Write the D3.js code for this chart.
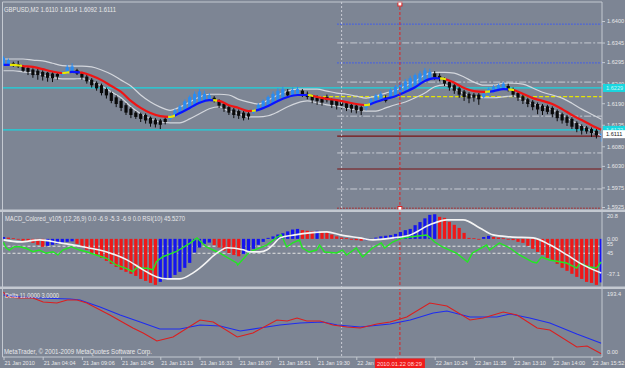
<!DOCTYPE html>
<html><head><meta charset="utf-8">
<script src="https://cdn.jsdelivr.net/npm/d3@7"></script>
<style>
body{margin:0;background:#7d8594;}
svg{display:block;font-family:"Liberation Sans",Arial,sans-serif;}
</style></head><body>
<svg id="c" width="625" height="368"></svg>
<script>
// ---------------- DATA ----------------
const symbolTitle = "GBPUSD,M2  1.6110 1.6114 1.6092 1.6111";
const macdTitle = "MACD_Colored_v105 (12,26,9) 0.0 -6.9 -5.3 -6.9 0.0  RSI(10) 45.5270";
const deltaTitle = "Delta 11.0000 3.0000";
const copyright = "MetaTrader, \u00A9 2001-2009 MetaQuotes Software Corp.";

const openP = [
1.6290,1.6290,1.6292,1.6290,1.6283,1.6280,1.6276,1.6273,1.6270,1.6268,
1.6266,1.6265,1.6262,1.6268,1.6272,1.6274,1.6266,1.6258,1.6250,1.6242,
1.6236,1.6226,1.6216,1.6205,1.6196,1.6185,1.6176,1.6166,1.6163,1.6160,
1.6153,1.6148,1.6146,1.6150,1.6150,1.6158,1.6163,1.6170,1.6176,1.6183,
1.6190,1.6196,1.6200,1.6204,1.6196,1.6188,1.6180,1.6174,1.6170,1.6166,
1.6164,1.6166,1.6172,1.6178,1.6184,1.6190,1.6198,1.6204,1.6220,1.6210,
1.6214,1.6222,1.6214,1.6208,1.6204,1.6202,1.6206,1.6198,1.6196,1.6192,
1.6190,1.6186,1.6184,1.6180,1.6178,1.6188,1.6194,1.6198,1.6204,1.6204,
1.6210,1.6215,1.6220,1.6226,1.6232,1.6240,1.6248,1.6254,1.6266,1.6260,
1.6252,1.6244,1.6236,1.6228,1.6220,1.6214,1.6212,1.6212,1.6206,1.6214,
1.6220,1.6224,1.6228,1.6234,1.6226,1.6216,1.6208,1.6200,1.6194,1.6188,
1.6184,1.6182,1.6178,1.6170,1.6162,1.6156,1.6150,1.6140,1.6132,1.6128,
1.6124,1.6120,1.6110];
const closeP = [
1.6306,1.6300,1.6286,1.6284,1.6273,1.6270,1.6262,1.6262,1.6258,1.6255,
1.6254,1.6258,1.6268,1.6282,1.6284,1.6266,1.6256,1.6246,1.6236,1.6228,
1.6216,1.6210,1.6196,1.6188,1.6178,1.6166,1.6160,1.6155,1.6150,1.6146,
1.6138,1.6136,1.6135,1.6142,1.6158,1.6172,1.6182,1.6195,1.6206,1.6214,
1.6220,1.6214,1.6210,1.6198,1.6184,1.6176,1.6166,1.6160,1.6158,1.6152,
1.6156,1.6172,1.6186,1.6196,1.6206,1.6214,1.6222,1.6226,1.6210,1.6224,
1.6226,1.6212,1.6206,1.6198,1.6196,1.6192,1.6198,1.6186,1.6184,1.6184,
1.6178,1.6176,1.6172,1.6170,1.6186,1.6200,1.6210,1.6214,1.6196,1.6224,
1.6232,1.6240,1.6246,1.6254,1.6262,1.6266,1.6274,1.6270,1.6256,1.6252,
1.6240,1.6230,1.6222,1.6212,1.6206,1.6202,1.6204,1.6200,1.6214,1.6226,
1.6232,1.6236,1.6240,1.6226,1.6212,1.6204,1.6196,1.6188,1.6180,1.6174,
1.6170,1.6168,1.6162,1.6152,1.6146,1.6140,1.6130,1.6124,1.6120,1.6118,
1.6114,1.6108,1.6111];
const highP = [
1.6310,1.6304,1.6296,1.6298,1.6287,1.6283,1.6279,1.6278,1.6274,1.6270,
1.6269,1.6268,1.6272,1.6288,1.6292,1.6278,1.6270,1.6262,1.6254,1.6246,
1.6240,1.6230,1.6220,1.6210,1.6200,1.6190,1.6180,1.6170,1.6166,1.6164,
1.6156,1.6152,1.6150,1.6154,1.6162,1.6176,1.6186,1.6200,1.6210,1.6220,
1.6226,1.6222,1.6216,1.6208,1.6200,1.6192,1.6184,1.6178,1.6174,1.6170,
1.6168,1.6176,1.6190,1.6200,1.6210,1.6220,1.6228,1.6232,1.6226,1.6230,
1.6232,1.6226,1.6220,1.6212,1.6210,1.6206,1.6212,1.6202,1.6200,1.6198,
1.6194,1.6190,1.6188,1.6184,1.6190,1.6204,1.6214,1.6220,1.6210,1.6228,
1.6236,1.6244,1.6252,1.6260,1.6266,1.6272,1.6280,1.6278,1.6272,1.6266,
1.6256,1.6248,1.6240,1.6232,1.6224,1.6218,1.6216,1.6216,1.6218,1.6230,
1.6236,1.6240,1.6244,1.6240,1.6230,1.6220,1.6212,1.6204,1.6198,1.6192,
1.6188,1.6186,1.6182,1.6174,1.6166,1.6160,1.6154,1.6144,1.6136,1.6132,
1.6128,1.6124,1.6114];
const lowP = [
1.6286,1.6287,1.6283,1.6280,1.6270,1.6262,1.6255,1.6250,1.6248,1.6245,
1.6244,1.6250,1.6258,1.6265,1.6269,1.6262,1.6250,1.6240,1.6230,1.6222,
1.6210,1.6202,1.6190,1.6180,1.6170,1.6160,1.6152,1.6150,1.6142,1.6138,
1.6130,1.6128,1.6124,1.6136,1.6146,1.6155,1.6160,1.6168,1.6174,1.6180,
1.6188,1.6192,1.6196,1.6192,1.6178,1.6168,1.6160,1.6152,1.6150,1.6146,
1.6148,1.6162,1.6170,1.6175,1.6180,1.6188,1.6195,1.6200,1.6204,1.6206,
1.6210,1.6206,1.6200,1.6190,1.6186,1.6184,1.6192,1.6178,1.6174,1.6176,
1.6170,1.6166,1.6164,1.6160,1.6172,1.6185,1.6190,1.6195,1.6192,1.6200,
1.6206,1.6212,1.6218,1.6222,1.6228,1.6236,1.6244,1.6250,1.6250,1.6246,
1.6234,1.6222,1.6214,1.6204,1.6196,1.6190,1.6194,1.6186,1.6202,1.6210,
1.6216,1.6220,1.6224,1.6220,1.6206,1.6196,1.6188,1.6180,1.6172,1.6162,
1.6160,1.6162,1.6154,1.6144,1.6138,1.6132,1.6124,1.6116,1.6110,1.6112,
1.6104,1.6100,1.6092];

// moving average (one value every 2 bars) and its envelope
const maCenter = [
1.6288,1.6288,1.6285,1.6283,1.6277,1.6271,1.6267,1.6270,1.6268,1.6260,
1.6249,1.6234,1.6219,1.6196,1.6178,1.6165,1.6157,1.6155,1.6165,1.6178,
1.6191,1.6198,1.6196,1.6185,1.6178,1.6170,1.6173,1.6183,1.6196,1.6206,
1.6211,1.6211,1.6206,1.6201,1.6198,1.6193,1.6188,1.6185,1.6193,1.6201,
1.6208,1.6219,1.6231,1.6247,1.6254,1.6252,1.6242,1.6229,1.6221,1.6219,
1.6221,1.6226,1.6224,1.6214,1.6203,1.6196,1.6188,1.6175,1.6160,1.6147,
1.6134,1.6122];
const maUpper = [
1.6303,1.6303,1.6303,1.6300,1.6298,1.6292,1.6286,1.6285,1.6285,1.6283,
1.6275,1.6264,1.6249,1.6234,1.6211,1.6193,1.6180,1.6172,1.6180,1.6193,
1.6206,1.6213,1.6213,1.6211,1.6200,1.6193,1.6188,1.6198,1.6211,1.6221,
1.6226,1.6226,1.6226,1.6221,1.6216,1.6213,1.6208,1.6203,1.6208,1.6216,
1.6223,1.6234,1.6246,1.6262,1.6269,1.6269,1.6267,1.6257,1.6244,1.6236,
1.6236,1.6241,1.6241,1.6239,1.6229,1.6218,1.6211,1.6203,1.6190,1.6175,
1.6162,1.6149];
const maLower = [
1.6273,1.6273,1.6270,1.6268,1.6262,1.6256,1.6252,1.6252,1.6253,1.6245,
1.6234,1.6219,1.6204,1.6181,1.6163,1.6150,1.6142,1.6140,1.6140,1.6150,
1.6163,1.6176,1.6181,1.6170,1.6163,1.6155,1.6155,1.6158,1.6168,1.6181,
1.6191,1.6196,1.6191,1.6186,1.6183,1.6178,1.6173,1.6170,1.6170,1.6178,
1.6186,1.6193,1.6204,1.6216,1.6232,1.6237,1.6227,1.6214,1.6206,1.6204,
1.6204,1.6206,1.6209,1.6199,1.6188,1.6181,1.6173,1.6160,1.6145,1.6132,
1.6119,1.6107];
// colour state of the MA line: start bar of each state
const maStateStart = [0,1.3,3.8,12,13.5,15.6,33.6,35,42.8,43.6,50.7,51.5,62.1,63.2,73.6,74.8,89.1,90.3,98.3,99.3,103,104.2,123];
const maState = ["up","flat","down","flat","up","down","flat","up","flat","down","flat","up","flat","down","flat","up","flat","down","flat","up","flat","down"];

// horizontal levels and objects on the price chart
const cyanLevels = [1.6229, 1.6122];
const blueDotLevels = [1.6392, 1.6293];
const greyLevels = [1.6344, 1.6244, 1.6157, 1.6063, 1.5971];
const darkRedLevels = [1.6106, 1.6022];
const redDotLevels = [1.5922];
const yellowLevels = [1.6207];
const objectsStartBar = 68.1;
const yellowStartBar = 64;
const greyVLineBar = 69;
const redVLineBar = 80.9;
const priceTicks = [1.6400,1.6345,1.6295,1.6240,1.6190,1.6135,1.6080,1.6030,1.5975,1.5925];
const lastPrice = 1.6111;

// MACD histogram (one per bar)
const macdHist = [
1.5,1.0,0.5,-0.5,-1.5,-2.5,-3.2,-4.8,-6.4,-5.6,
-4.8,-4.0,-3.2,-2.4,-2.0,-4.0,-6.4,-8.8,-11.3,-12.9,
-15.3,-17.7,-20.1,-22.5,-24.9,-26.5,-28.1,-29.8,-32.2,-33.8,
-35.4,-37.0,-34.6,-33.0,-31.4,-29.0,-26.5,-23.3,-19.3,-11.0,
-7.0,-4.0,-3.0,-5.0,-7.0,-9.5,-11.5,-12.9,-14.0,-12.1,
-10.5,-8.0,-4.8,-2.4,0.8,2.0,3.5,4.5,6.0,7.5,
8.0,7.0,6.5,6.0,6.5,5.5,5.0,3.5,2.0,1.0,
0.5,-0.5,-1.0,-1.5,-1.0,0.0,1.0,2.0,2.5,3.0,
4.0,5.5,7.0,8.0,11.0,13.5,16.5,19.3,19.8,17.7,
16.9,13.7,11.3,8.8,4.8,0.8,0.5,-0.5,1.5,2.4,
1.5,1.0,0.5,-0.3,-1.0,-2.4,-3.2,-5.6,-8.0,-10.5,
-12.9,-15.3,-17.7,-20.1,-23.3,-25.7,-28.1,-30.6,-32.2,-34.6,
-35.4,-37.0,-35.0];
const macdLine = [[0,-0.8],[3.4,-2.4],[7.4,-0.8],[11.5,-3.2],[16.2,-6.4],[21.1,-10.5],[25.2,-16.9],[28.5,-24.9],[31.3,-30.6],[33.4,-32.2],[36,-32.2],[38.7,-27.3],[40.1,-23.3],[41.5,-18.5],[42.8,-13.7],[44.2,-9.7],[45.6,-7.2],[48.9,-8.8],[50.3,-10.5],[52.3,-10.5],[53.8,-8.8],[55,-4.8],[56.4,0.8],[59.5,3.2],[62.6,4.8],[66,5.6],[68.7,3.2],[72.7,0.8],[75.4,-0.8],[79.5,0.8],[83,3.2],[87,11.3],[90.5,15.3],[93.8,15.3],[97.2,8.8],[99.9,3.2],[103.4,1.6],[108.1,0.8],[111.5,-4.8],[115,-12.9],[118.3,-20.9],[122,-27.5]];
const rsiLine = [[0,60.6],[0.5,52.9],[1.2,49.6],[2.2,54.3],[3.3,54.3],[4.6,52.1],[6.0,47.2],[7.3,49.6],[8.7,45.0],[10.1,47.2],[11.1,42.6],[12.1,49.6],[13.1,52.1],[13.8,54.3],[15.5,49.6],[16.9,47.2],[18.9,42.6],[21.0,37.9],[23.0,28.4],[25.0,23.7],[26.4,18.9],[27.4,26.0],[28.4,23.7],[29.4,23.7],[30.5,21.3],[31.2,33.0],[32.5,40.1],[35.2,47.2],[38.0,59.1],[39.5,66.9],[40.6,59.1],[41.4,53.9],[44.1,45.4],[47.6,31.2],[47.8,28.4],[50.2,46.8],[53.7,56.7],[55.9,68.1],[56.7,70.9],[57.8,53.9],[59.0,59.6],[60.4,63.8],[61.0,52.5],[62.4,46.8],[63.9,49.6],[64.5,56.7],[65.5,46.8],[68.0,45.4],[69.2,49.6],[70.0,42.6],[72.0,52.5],[73.3,39.7],[75.3,52.5],[77.1,59.6],[77.8,52.5],[79.4,61.0],[81.4,66.7],[82.9,68.1],[86.3,70.9],[86.9,68.1],[88.0,61.0],[89.6,53.9],[92.4,45.4],[94.7,32.6],[95.7,45.4],[98.6,56.7],[99.2,49.6],[101.2,59.6],[103.3,52.5],[105.3,42.6],[108.0,32.6],[108.8,31.2],[109.8,39.7],[111.4,35.5],[114.9,31.2],[117.0,24.1],[117.6,31.2],[119.6,25.5],[121.0,24.1],[122,32.6]];
const rsiLevels = [55, 45];
const macdTicks = ["20.8","0.00","55","45","-37.1"];

// Delta window
const deltaBlue = [[0,184.2],[3.4,178.1],[7.4,175.0],[13.6,171.9],[15.6,168.9],[19.7,147.4],[23.8,122.8],[27.9,101.3],[31.9,79.8],[36.0,79.8],[40.1,92.1],[44.2,89.0],[48.3,73.7],[52.3,82.9],[56.4,92.1],[60.5,98.2],[65.2,101.3],[68.1,92.1],[72.8,86.0],[78.9,95.2],[83.0,107.5],[87.7,128.9],[90.5,135.1],[95.2,116.7],[100.7,116.7],[103.4,125.9],[107.4,113.6],[111.5,98.2],[117.0,64.5],[122,36.0]];
const deltaRed = [[0,193.4],[0.7,178.1],[3.4,175.0],[6.0,175.0],[8.1,162.7],[10.9,159.6],[13.0,168.9],[15.0,168.9],[17.0,159.6],[21.7,122.8],[26.4,82.9],[28.5,67.5],[31.3,43.0],[34.6,55.3],[40.1,107.5],[42.8,101.3],[47.7,55.3],[50.9,67.5],[55.8,107.5],[57.9,104.4],[59.9,113.6],[61.9,104.4],[64.6,104.4],[67.2,92.1],[70.1,86.0],[72.8,82.9],[76.2,95.2],[78.9,101.3],[82.3,116.7],[87.0,159.6],[90.5,150.4],[95.2,107.5],[97.9,113.6],[102.0,132.0],[104.8,122.8],[108.9,82.9],[111.5,76.8],[117.0,24.6],[119.1,27.6],[122,4.0]];

// time axis (the label at bar 80 is hidden under the cursor time box)
const timeBars = [0,8,16,24,32,40,48,56,64,72,80,88,96,104,112,120];
const timeLabels = ["21 Jan 2010","21 Jan 04:04","21 Jan 09:06","21 Jan 10:45","21 Jan 13:13","21 Jan 16:33","21 Jan 18:07","21 Jan 18:51","21 Jan 19:30","22 Jan 0","","22 Jan 10:24","22 Jan 11:35","22 Jan 13:10","22 Jan 14:00","22 Jan 15:52"];
const cursorTimeLabel = "2010.01.22 08:29";

// ---------------- DRAWING ----------------
const svg = d3.select("#c");
const TXT = "#e8e8ea", BORDER = "#c4c9d1";
const X0 = 2.5, X1 = 602;
const x = d3.scaleLinear().domain([0, 122]).range([3.5, 601.3]);
const yP = d3.scaleLinear().domain([1.5925, 1.6400]).range([207, 21]);
const yM = d3.scaleLinear().domain([-37.1, 20.8]).range([285, 213]);
const yR = d3.scaleLinear().domain([0, 100]).range([285, 214.5]);
const yD = d3.scaleLinear().domain([0, 193.4]).range([355, 292]);

svg.append("rect").attr("width", 625).attr("height", 368).attr("fill", "#7d8594");

const defs = svg.append("defs");
function clip(id, y0, y1) {
  defs.append("clipPath").attr("id", id).append("rect")
    .attr("x", X0).attr("y", y0).attr("width", X1 - X0).attr("height", y1 - y0);
}
clip("cMain", 2, 209.5); clip("cMacd", 212, 286.5); clip("cDelta", 289, 357);

// ---- main chart
const main = svg.append("g").attr("clip-path", "url(#cMain)");
const xs = x(objectsStartBar);
function hlines(levels, color, dash, w, x0) {
  main.selectAll(null).data(levels).enter().append("line")
    .attr("x1", x0).attr("x2", X1).attr("y1", d => yP(d)).attr("y2", d => yP(d))
    .attr("stroke", color).attr("stroke-width", w).attr("stroke-dasharray", dash);
}
hlines(blueDotLevels, "#3355ff", "1.5,1.5", 1, xs);
hlines(greyLevels, "#c6cbd3", "7,2,2,2", 1, xs);
hlines(darkRedLevels, "#7a1414", null, 1.2, xs);
hlines(redDotLevels, "#b01818", "1.5,1.5", 1, xs);
hlines(yellowLevels, "#e6e600", "4,2", 1.2, x(yellowStartBar));
hlines(cyanLevels, "#19d6df", null, 1.3, X0);

// verticals
function vline(bar, color, dash, w) {
  svg.append("line").attr("x1", x(bar)).attr("x2", x(bar)).attr("y1", 2).attr("y2", 357)
    .attr("stroke", color).attr("stroke-dasharray", dash).attr("stroke-width", w);
}
vline(greyVLineBar, "#c8ccd4", "2,2", 1);

// envelope
const bandLine = d3.line().x((d, i) => x(i * 2)).y(d => yP(d)).curve(d3.curveMonotoneX);
main.append("path").attr("d", bandLine(maUpper)).attr("fill", "none").attr("stroke", "#d4d7dd").attr("stroke-width", 1.2);
main.append("path").attr("d", bandLine(maLower)).attr("fill", "none").attr("stroke", "#d4d7dd").attr("stroke-width", 1.2);

// candles
const bars = openP.map((o, i) => ({i, o, c: closeP[i], h: highP[i], l: lowP[i]}));
const cg = main.append("g");
cg.selectAll("line").data(bars).enter().append("line")
  .attr("x1", d => x(d.i)).attr("x2", d => x(d.i))
  .attr("y1", d => yP(d.h)).attr("y2", d => yP(d.l))
  .attr("stroke", d => d.c >= d.o ? "#2a8cf2" : "#0a0a0a").attr("stroke-width", 1);
cg.selectAll("rect").data(bars).enter().append("rect")
  .attr("x", d => x(d.i) - 1.6).attr("width", 3.2)
  .attr("y", d => yP(Math.max(d.o, d.c)))
  .attr("height", d => Math.max(1, Math.abs(yP(d.o) - yP(d.c))))
  .attr("fill", d => d.c >= d.o ? "#2a8cf2" : "#0a0a0a");

// MA centre line coloured by state
const stateColor = {up: "#0a14ff", down: "#f01414", flat: "#e8e800"};
const maLine = d3.line().x((d, i) => x(i * 2)).y(d => yP(d)).curve(d3.curveMonotoneX);
maState.forEach((s, k) => {
  const id = "ma" + k;
  defs.append("clipPath").attr("id", id).append("rect")
    .attr("x", x(maStateStart[k])).attr("width", x(maStateStart[k + 1]) - x(maStateStart[k]))
    .attr("y", 0).attr("height", 210);
  main.append("g").attr("clip-path", `url(#${id})`).append("path")
    .attr("d", maLine(maCenter)).attr("fill", "none")
    .attr("stroke", stateColor[s]).attr("stroke-width", 2.2);
});

// red cursor line
vline(redVLineBar, "#e02020", "3,2", 1);
svg.append("rect").attr("x", x(redVLineBar) - 2).attr("y", 2).attr("width", 4).attr("height", 4).attr("fill", "#fff").attr("stroke", "#e02020");
svg.append("rect").attr("x", x(redVLineBar) - 2).attr("y", 206.5).attr("width", 4).attr("height", 4).attr("fill", "#fff").attr("stroke", "#e02020");

// ---- MACD window
const mg = svg.append("g").attr("clip-path", "url(#cMacd)");
mg.selectAll(null).data(rsiLevels).enter().append("line")
  .attr("x1", X0).attr("x2", X1).attr("y1", d => yR(d)).attr("y2", d => yR(d))
  .attr("stroke", "#e4e4e4").attr("stroke-dasharray", "3,2").attr("stroke-width", 1);
mg.selectAll("rect").data(macdHist).enter().append("rect")
  .attr("x", (d, i) => x(i) - 1.6).attr("width", 3.2)
  .attr("y", d => Math.min(yM(0), yM(d)))
  .attr("height", d => Math.max(0.8, Math.abs(yM(d) - yM(0))))
  .attr("fill", (d, i) => (i > 0 && d > macdHist[i - 1]) || (i === 0) ? "#1414f0" : "#f01818");
mg.append("path").attr("d", d3.line().x(d => x(d[0])).y(d => yR(d[1]))(rsiLine))
  .attr("fill", "none").attr("stroke", "#22e822").attr("stroke-width", 1.4);
mg.append("path").attr("d", d3.line().x(d => x(d[0])).y(d => yM(d[1])).curve(d3.curveMonotoneX)(macdLine))
  .attr("fill", "none").attr("stroke", "#f4f4f4").attr("stroke-width", 1.6);

// ---- Delta window
const dg = svg.append("g").attr("clip-path", "url(#cDelta)");
dg.append("path").attr("d", d3.line().x(d => x(d[0])).y(d => yD(d[1]))(deltaBlue))
  .attr("fill", "none").attr("stroke", "#1e2cf0").attr("stroke-width", 1.1);
dg.append("path").attr("d", d3.line().x(d => x(d[0])).y(d => yD(d[1]))(deltaRed))
  .attr("fill", "none").attr("stroke", "#dc1e1e").attr("stroke-width", 1.1);

// ---- frames & separators
svg.append("rect").attr("x", 0).attr("y", 209.5).attr("width", 625).attr("height", 2.5).attr("fill", BORDER);
svg.append("rect").attr("x", 0).attr("y", 286.5).attr("width", 625).attr("height", 2.5).attr("fill", BORDER);
svg.append("line").attr("x1", X0).attr("x2", X1).attr("y1", 2).attr("y2", 2).attr("stroke", BORDER);
svg.append("line").attr("x1", X0).attr("x2", X0).attr("y1", 2).attr("y2", 357).attr("stroke", BORDER);
svg.append("line").attr("x1", X1).attr("x2", X1).attr("y1", 2).attr("y2", 357).attr("stroke", BORDER);
svg.append("line").attr("x1", X0).attr("x2", X1).attr("y1", 357).attr("y2", 357).attr("stroke", BORDER);

const AX = "font-size:5.6px;font-family:'Liberation Sans'";
// ---- price axis
const pa = svg.append("g").attr("transform", `translate(${X1},0)`)
  .call(d3.axisRight(yP).tickValues(priceTicks).tickSize(3).tickPadding(2).tickFormat(d3.format(".4f")));
pa.select(".domain").remove();
pa.selectAll("line").attr("stroke", BORDER);
pa.selectAll("text").attr("fill", TXT).attr("style", AX);

function priceBox(p, fill, tc) {
  svg.append("rect").attr("x", X1 + 1).attr("y", yP(p) - 4).attr("width", 22).attr("height", 8).attr("fill", fill);
  svg.append("text").attr("x", X1 + 4).attr("y", yP(p) + 2.2).attr("fill", tc).attr("style", AX)
    .text(d3.format(".4f")(p));
}
cyanLevels.forEach(p => priceBox(p, "#19d6df", "#c8f6f8"));
priceBox(lastPrice, "#ffffff", "#202020");

// ---- MACD axis labels
const macdTickY = [yM(20.8) + 3, yM(0), yR(55) - 2, yR(45), yM(-37.1) - 11];
svg.selectAll(null).data(macdTicks).enter().append("text")
  .attr("x", X1 + 5).attr("y", (d, i) => macdTickY[i] + 2.2)
  .attr("fill", TXT).attr("style", AX).text(d => d);
// Delta axis labels
svg.append("text").attr("x", X1 + 5).attr("y", yD(193.4) + 4.2).attr("fill", TXT).attr("style", AX).text("193.4");
svg.append("text").attr("x", X1 + 5).attr("y", yD(0) - 0.6).attr("fill", TXT).attr("style", AX).text("0.00");

// ---- time axis
const ta = svg.append("g").attr("transform", "translate(0,357)")
  .call(d3.axisBottom(x).tickValues(timeBars).tickSize(3).tickPadding(2).tickFormat((d, i) => timeLabels[i]));
ta.select(".domain").remove();
ta.selectAll("line").attr("stroke", BORDER);
ta.selectAll("text").attr("fill", TXT).attr("style", "font-size:5.5px;font-family:'Liberation Sans'")
  .attr("text-anchor", "start").attr("dx", "0.5").attr("dy", "0.55em");
svg.append("rect").attr("x", x(redVLineBar) - 25).attr("y", 358.5).attr("width", 50).attr("height", 9.5).attr("fill", "#f01c1c");
svg.append("text").attr("x", x(redVLineBar) - 23).attr("y", 366).attr("fill", "#ffd6d6")
  .attr("style", "font-size:5.8px;font-family:'Liberation Sans'").text(cursorTimeLabel);

// ---- titles
function label(t, xx, yy, len) {
  svg.append("text").attr("x", xx).attr("y", yy).attr("fill", TXT).attr("font-size", "7px")
    .attr("textLength", len).attr("lengthAdjust", "spacingAndGlyphs").text(t);
}
label(symbolTitle, 4, 12, 112);
label(macdTitle, 5, 221, 180);
label(deltaTitle, 5, 298, 54);
label(copyright, 4, 354, 148);
</script>
</body></html>
